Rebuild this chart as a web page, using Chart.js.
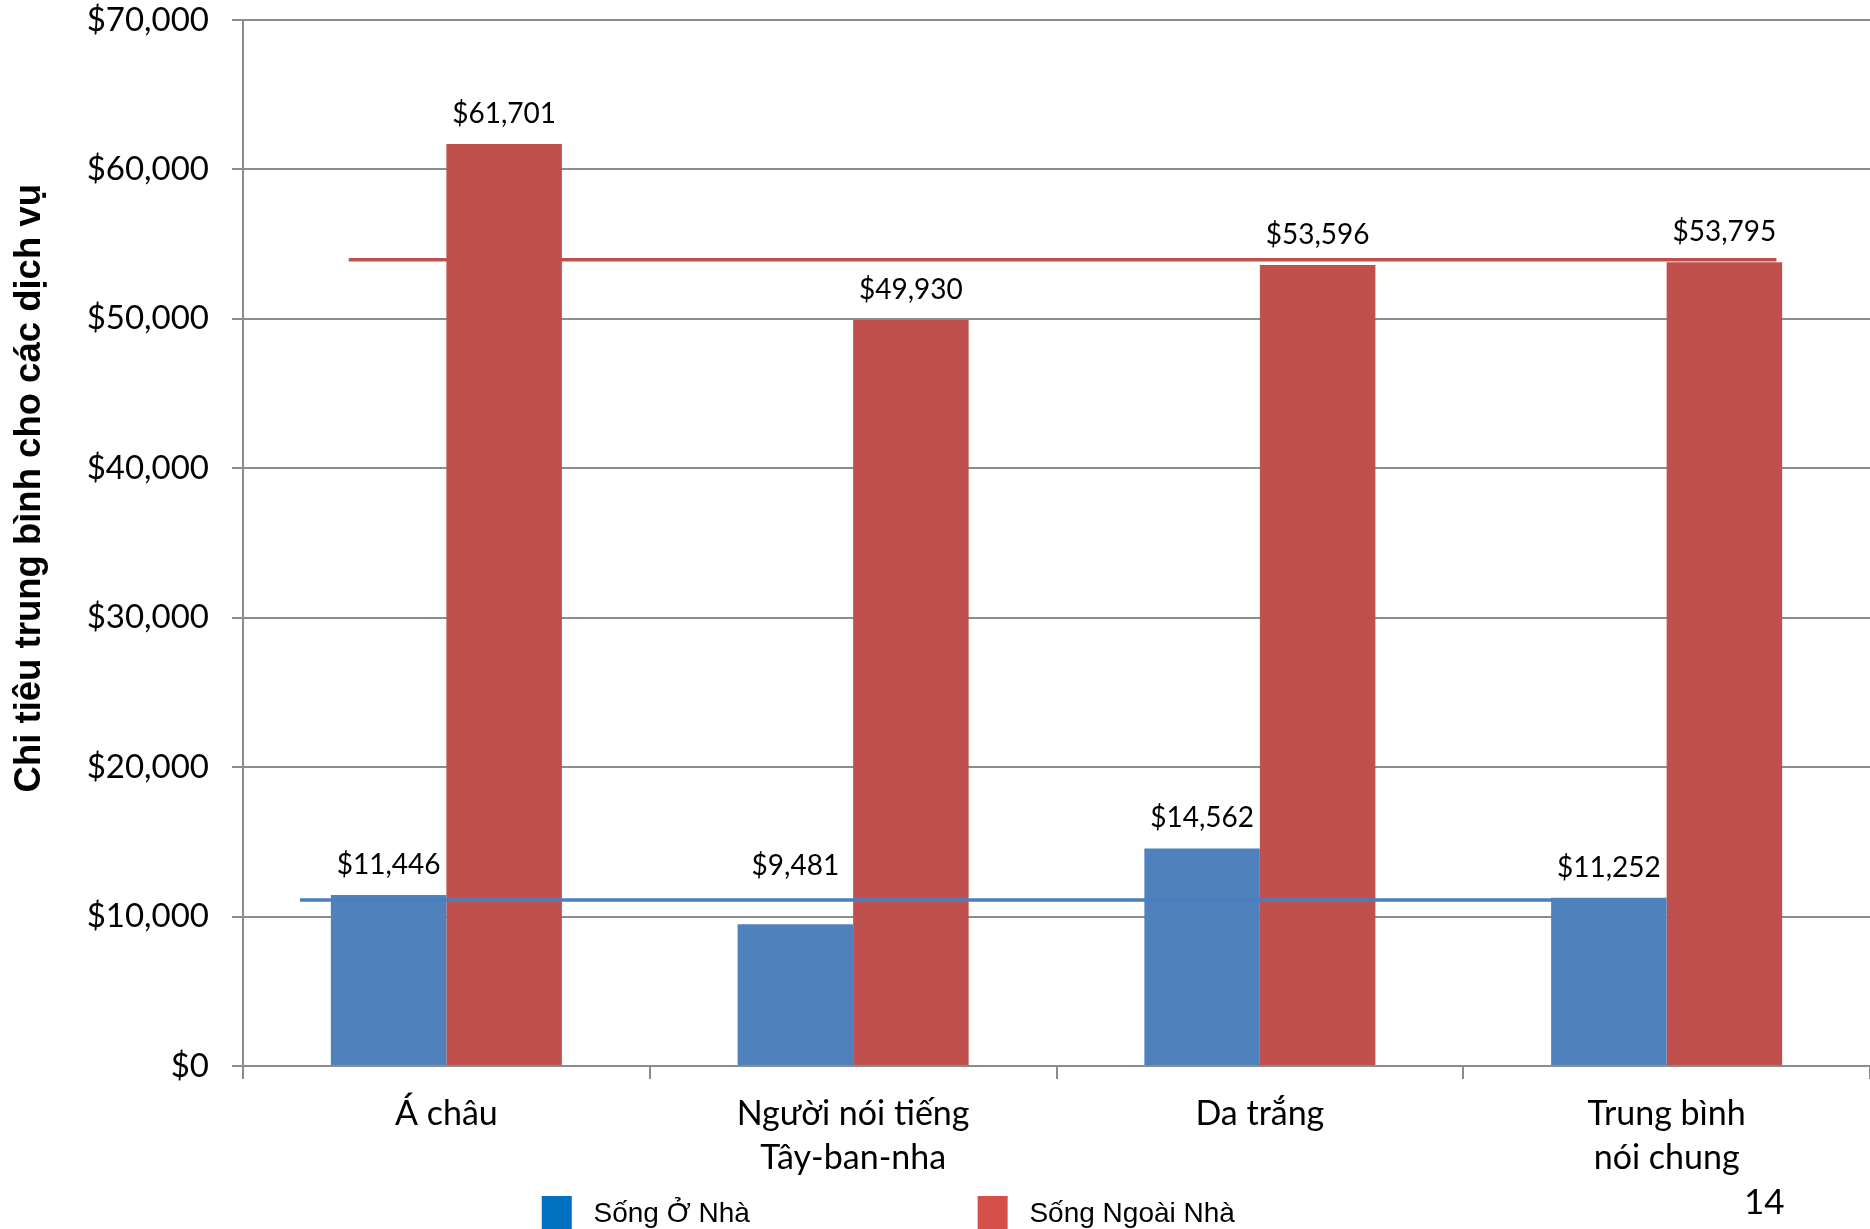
<!DOCTYPE html>
<html><head><meta charset="utf-8">
<script src="https://cdn.jsdelivr.net/npm/chart.js@4.4.1/dist/chart.umd.min.js"></script>
<style>html,body{margin:0;padding:0;background:#fff;overflow:hidden}#wrap{position:absolute;left:0;top:0;width:1870px;height:1229px}</style>
</head><body><div id="wrap"><canvas id="c" width="1870" height="1229"></canvas></div>
<script>
// ---- data ----
const categories = [['Á châu'], ['Người nói tiếng', 'Tây-ban-nha'], ['Da trắng'], ['Trung bình', 'nói chung']];
const seriesNames = ['Sống Ở Nhà', 'Sống Ngoài Nhà'];
const homeValues = [11446, 9481, 14562, 11252];
const outsideValues = [61701, 49930, 53596, 53795];
// reference lines: x in category-index units, y in dollars
const homeRefLine = [{x: -0.36, y: 11110}, {x: 2.72, y: 11110}];
const outsideRefLine = [{x: -0.24, y: 53950}, {x: 3.27, y: 53950}];
const yTickValues = [0, 10000, 20000, 30000, 40000, 50000, 60000, 70000];
const yAxisTitle = 'Chi tiêu trung bình cho các dịch vụ';
const pageNumber = '14';

// ---- styles ----
const barColors = ['#4F81BD', '#C0504D'];
const legendColors = ['#0070C0', '#D6504A'];
const lineColors = ['#4A7EBF', '#C0504D'];
const gridColor = '#8c8c8c';
const fmt = v => '$' + v.toLocaleString('en-US');
const refSets = [[homeRefLine, lineColors[0]], [outsideRefLine, lineColors[1]]];

const refLines = {
  id: 'refLines',
  afterDatasetsDraw(chart) {
    const xs = chart.scales.x, ys = chart.scales.y, ctx = chart.ctx;
    ctx.save();
    refSets.forEach(([pts, color]) => {
      ctx.beginPath();
      pts.forEach((p, i) => {
        const px = xs.getPixelForValue(p.x), py = ys.getPixelForValue(p.y);
        if (i === 0) ctx.moveTo(px, py); else ctx.lineTo(px, py);
      });
      ctx.strokeStyle = color;
      ctx.lineWidth = 3.5;
      ctx.stroke();
    });
    ctx.restore();
  }
};
const valueLabels = {
  id: 'valueLabels',
  afterDatasetsDraw(chart) {
    const ctx = chart.ctx, xs = chart.scales.x, ys = chart.scales.y;
    ctx.save();
    ctx.font = '28px Lato';
    ctx.fillStyle = '#000';
    ctx.textAlign = 'center';
    ctx.textBaseline = 'alphabetic';
    [0, 1].forEach(di => {
      const meta = chart.getDatasetMeta(di);
      meta.data.forEach((el, i) => {
        let base = el.y - 21;
        // keep the label clear of a reference line that crosses it
        refSets.forEach(([pts]) => {
          const x0 = xs.getPixelForValue(pts[0].x), x1 = xs.getPixelForValue(pts[1].x);
          const ly = ys.getPixelForValue(pts[0].y);
          if (el.x > x0 && el.x < x1 && ly > base - 24 && ly < base + 6) base = ly - 25;
        });
        ctx.fillText(fmt(chart.data.datasets[di].data[i]), el.x, base);
      });
    });
    ctx.restore();
  }
};
const pageNum = {
  id: 'pageNum',
  afterDraw(chart) {
    const ctx = chart.ctx;
    ctx.save();
    ctx.font = '35px Lato';
    ctx.fillStyle = '#000';
    ctx.textAlign = 'left';
    ctx.textBaseline = 'alphabetic';
    ctx.fillText(pageNumber, 1744, 1214);
    ctx.restore();
  }
};

new Chart(document.getElementById('c'), {
  type: 'bar',
  data: {
    labels: categories,
    datasets: [
      {label: seriesNames[0], data: homeValues, backgroundColor: barColors[0], categoryPercentage: 0.568, barPercentage: 1.0},
      {label: seriesNames[1], data: outsideValues, backgroundColor: barColors[1], categoryPercentage: 0.568, barPercentage: 1.0}
    ]
  },
  options: {
    responsive: false,
    animation: false,
    devicePixelRatio: 1,
    layout: {padding: {left: 0, right: 0, top: 0, bottom: -13}},
    scales: {
      x: {
        offset: true,
        grid: {display: true, drawOnChartArea: false, drawTicks: true, tickLength: 13, color: gridColor, lineWidth: 2, offset: true},
        border: {display: true, color: gridColor, width: 2},
        ticks: {font: {family: 'Lato', size: 34, lineHeight: 1.3}, color: '#000', padding: 13, maxRotation: 0, autoSkip: false},
        afterFit: s => { s.height = 120; }
      },
      y: {
        min: 0, max: 70000,
        afterBuildTicks: s => { s.ticks = yTickValues.map(v => ({value: v})); },
        grid: {color: gridColor, lineWidth: 2, tickLength: 11, drawTicks: true},
        border: {display: true, color: gridColor, width: 2},
        ticks: {font: {family: 'Lato', size: 33}, color: '#000', padding: 23, callback: v => fmt(v)},
        title: {display: true, text: '\u2003\u2003\u2003' + yAxisTitle, font: {family: 'Liberation Sans', size: 36.5, weight: 'bold'}, color: '#000', padding: {top: 8, bottom: 0}},
        afterFit: s => { s.width = 243; s.paddingTop = 20; s.paddingBottom = 0; }
      }
    },
    plugins: {
      tooltip: {enabled: false},
      legend: {
        position: 'bottom',
        labels: {
          font: {family: 'Liberation Sans', size: 28}, color: '#3a3a3a', boxWidth: 30, boxHeight: 36, padding: 10,
          generateLabels: chart => [
            {text: ' ' + seriesNames[0] + ' '.repeat(28), fillStyle: legendColors[0], strokeStyle: legendColors[0], lineWidth: 0, hidden: false, datasetIndex: 0},
            {text: ' ' + seriesNames[1] + ' '.repeat(12), fillStyle: legendColors[1], strokeStyle: legendColors[1], lineWidth: 0, hidden: false, datasetIndex: 1}
          ]
        }
      }
    }
  },
  plugins: [refLines, valueLabels, pageNum]
});
</script></body></html>
